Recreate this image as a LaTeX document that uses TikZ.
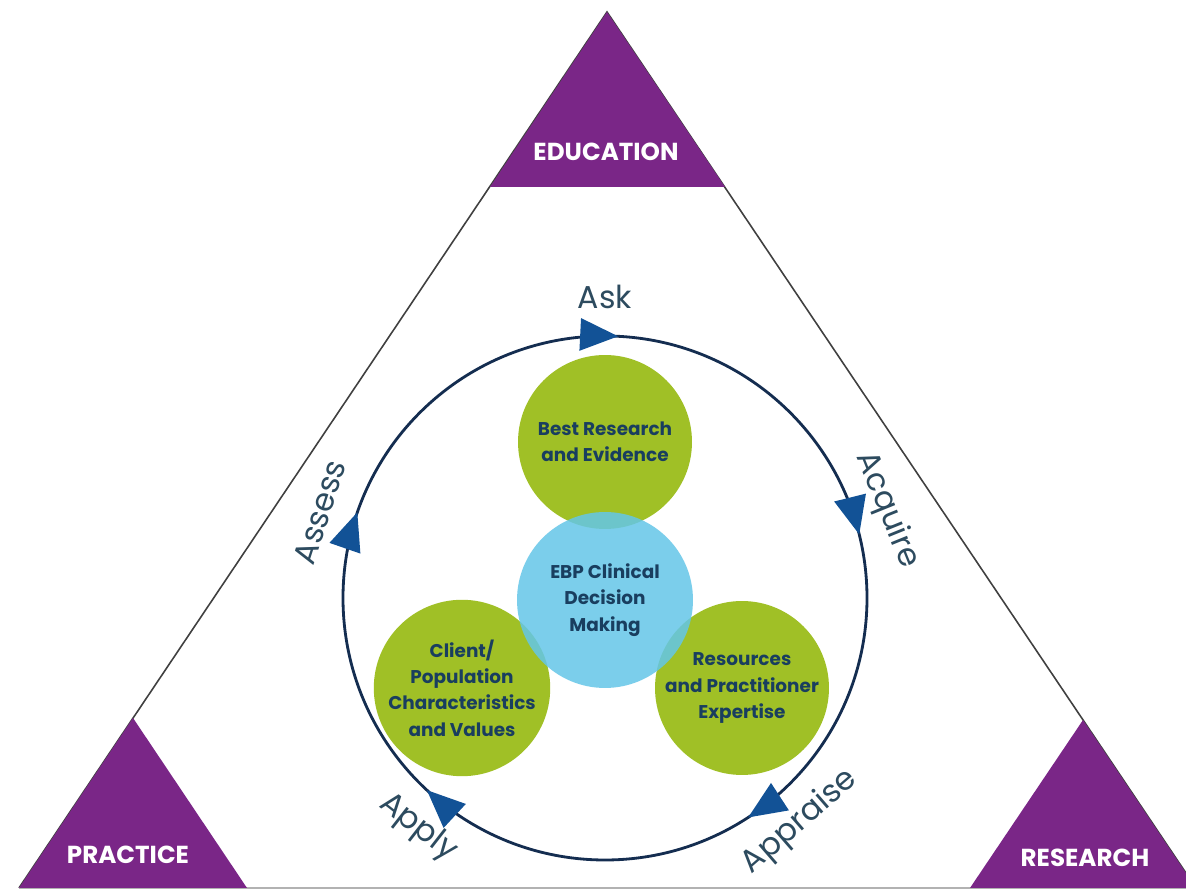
\documentclass[tikz,border=0pt]{standalone}
\usepackage{fontspec}
\setmainfont{Poppins}
\usepackage{tikz}
\usetikzlibrary{arrows.meta,decorations.markings}
\definecolor{ebppurple}{RGB}{122,38,135}
\definecolor{ebpgreen}{RGB}{160,192,38}
\definecolor{ebpblue}{RGB}{100,198,232}
\definecolor{ebpnavy}{RGB}{20,45,80}
\definecolor{ebparrow}{RGB}{18,82,150}
\definecolor{ebptext}{RGB}{25,62,95}
\definecolor{ebplabel}{RGB}{45,75,95}
\tikzstyle{greenvertex}=[circle,fill=ebpgreen,minimum size=3.48cm,inner sep=0pt,align=center,text=ebptext,font=\fontsize{10.5}{15}\selectfont\bfseries]
\tikzstyle{bluevertex}=[greenvertex,fill=ebpblue,fill opacity=0.85,text opacity=1,minimum size=3.52cm]
\tikzstyle{corner}=[fill=ebppurple]
\tikzstyle{cornerlabel}=[text=white,font=\fontsize{14}{16}\selectfont\bfseries]
\tikzstyle{steplabel}=[text=ebplabel,font=\fontsize{18}{20}\selectfont]
\tikzstyle{cycletip}=[-,decoration={markings,
  mark=at position 0.053 with {\arrow{Triangle[length=0.76cm,width=0.64cm,color=ebparrow]}},
  mark=at position 0.258 with {\arrow{Triangle[length=0.76cm,width=0.64cm,color=ebparrow]}},
  mark=at position 0.461 with {\arrow{Triangle[length=0.76cm,width=0.64cm,color=ebparrow]}},
  mark=at position 0.658 with {\arrow{Triangle[length=0.76cm,width=0.64cm,color=ebparrow]}},
  mark=at position 0.869 with {\arrow{Triangle[length=0.76cm,width=0.64cm,color=ebparrow]}}}]
\tikzstyle{cycleline}=[draw=ebpnavy,line width=1.6pt,cycletip,postaction=decorate]
\begin{document}
\begin{tikzpicture}[x=0.02cm,y=0.02cm]

    \useasboundingbox (0,0) rectangle (1186,891);
    \clip (0,0) rectangle (1186,891);
    \fill[white] (0,0) rectangle (1186,891);

    % outer triangle
    \coordinate (apex) at (607,879);
    \coordinate (left) at (19,3);
    \coordinate (right) at (1196,3);
    \draw[black!75, line width=0.9pt] (left) -- (apex) -- (right);
    \draw[black!30, line width=1.2pt] (left) -- (right);

    % corners
    \fill[corner] (apex) -- (490,704) -- (725,704) -- cycle;
    \fill[corner] (133,173) -- (left) -- (247,3) -- cycle;
    \fill[corner] (1083,171) -- (970,3) -- (right) -- cycle;

    \foreach \x/\y/\name in {606/739/EDUCATION, 128/36/PRACTICE, 1085/33/RESEARCH}
        \node[cornerlabel] (\name) at (\x,\y) {\name};

    % the 5 A cycle
    \coordinate (hub) at (605,293);
    \draw[cycleline] (hub) ++(180:262) arc[start angle=180, end angle=-180, radius=262];

    \foreach \x/\y/\ang/\name in {605/594/0/Ask, 887/381/-68/Acquire, 800/69/41/Appraise, 418/63/-38/Apply, 320/379/72/Assess}
        \node[steplabel, rotate=\ang] (\name) at (\x,\y) {\name};

    % circles
    \foreach \x/\y/\name/\txt in {605/449/evidence/{Best Research\\and Evidence}, 462/203/client/{Client/\\Population\\Characteristics\\and Values}, 742/203/expertise/{Resources\\and Practitioner\\Expertise}}
        \node[greenvertex] (\name) at (\x,\y) {\txt};

    \node[bluevertex] (decision) at (605,291) {EBP Clinical\\Decision\\Making};

\end{tikzpicture}
\end{document}
